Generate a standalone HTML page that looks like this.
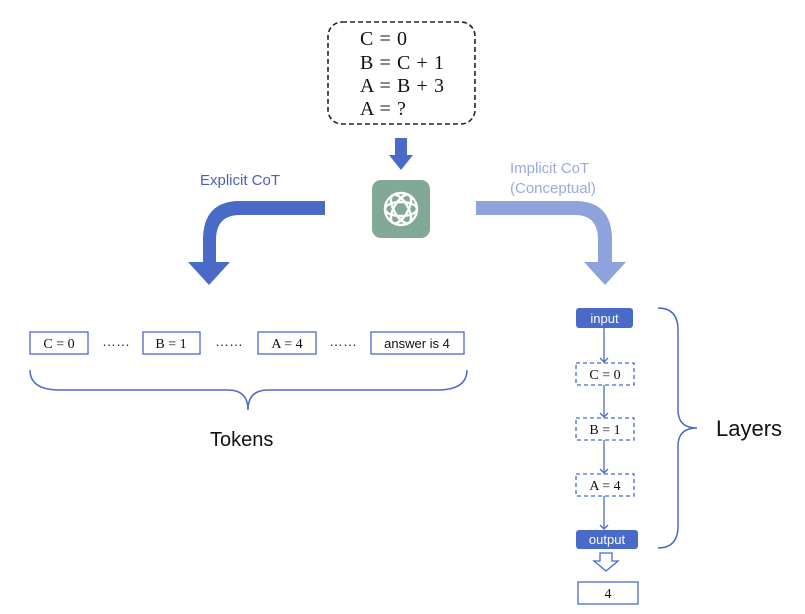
<!DOCTYPE html>
<html><head><meta charset="utf-8"><style>
html,body{margin:0;padding:0;background:#fff;}
svg{display:block;}
.s{font-family:"Liberation Serif",serif;}
.a{font-family:"Liberation Sans",sans-serif;}
</style></head><body>
<svg width="805" height="614" viewBox="0 0 805 614" xmlns="http://www.w3.org/2000/svg">
<defs>
<marker id="ah" markerWidth="10" markerHeight="10" refX="5" refY="5" orient="auto" markerUnits="userSpaceOnUse">
<path d="M1,1 L5,5 L1,9" fill="none" stroke="#4a6ac8" stroke-width="1.3"/>
</marker>
</defs>
<rect x="328" y="22" width="147" height="102" rx="14" fill="none" stroke="#222" stroke-width="1.6" stroke-dasharray="5,3"/>
<g class="s" font-size="20" fill="#111" letter-spacing="0.6">
<text x="360" y="45">C = 0</text>
<text x="360" y="69">B = C + 1</text>
<text x="360" y="92">A = B + 3</text>
<text x="360" y="115">A = ?</text>
</g>
<path d="M395,138 H407 V155 H413 L401,170 L389,155 H395 Z" fill="#4a6ac8"/>
<rect x="372" y="180" width="58" height="58" rx="9" fill="#82a896"/>
<g fill="none" stroke="#fff" stroke-width="2.4">
<circle cx="401" cy="209" r="16"/>
<ellipse cx="401" cy="209" rx="16" ry="7" transform="rotate(60 401 209)"/>
<ellipse cx="401" cy="209" rx="16" ry="7" transform="rotate(-60 401 209)"/>
<ellipse cx="401" cy="209" rx="16" ry="7"/>
</g>
<text class="a" x="200" y="185" font-size="15" fill="#4a5fb8">Explicit CoT</text>
<text class="a" x="510" y="173" font-size="15" fill="#9aaae0">Implicit CoT</text>
<text class="a" x="510" y="193" font-size="15" fill="#9aaae0">(Conceptual)</text>
<path d="M325,201 H240 Q203,201 203,240 V262 H188 L209,285 L230,262 H216 V240 Q216,215 240,215 H325 Z" fill="#4a6ac8"/>
<path d="M476,201 H575 Q612,201 612,240 V262 H626 L605,285 L584,262 H598 V240 Q598,215 575,215 H476 Z" fill="#8ea2dc"/>
<g fill="#fff" stroke="#4a6ac8" stroke-width="1.3">
<rect x="30" y="332" width="58" height="22"/>
<rect x="143" y="332" width="57" height="22"/>
<rect x="258" y="332" width="58" height="22"/>
<rect x="371" y="332" width="93" height="22"/>
</g>
<g class="s" font-size="14" fill="#111" text-anchor="middle">
<text x="59" y="348">C = 0</text>
<text x="171" y="348">B = 1</text>
<text x="287" y="348">A = 4</text>
</g>
<text class="a" x="417" y="348" font-size="13" fill="#111" text-anchor="middle">answer is 4</text>
<g class="a" font-size="14" fill="#333" text-anchor="middle">
<text x="116" y="346">……</text>
<text x="229" y="346">……</text>
<text x="343" y="346">……</text>
</g>
<path d="M30,370 Q30,390 60,390 H228 Q248,390 248,410 Q248,390 268,390 H437 Q467,390 467,370" fill="none" stroke="#4a6ac8" stroke-width="1.5"/>
<text class="a" x="210" y="446" font-size="20" fill="#111">Tokens</text>
<rect x="576" y="308" width="57" height="20" rx="3" fill="#4a6ac8"/>
<text class="a" x="604.5" y="323" font-size="13" fill="#fff" text-anchor="middle">input</text>
<g stroke="#4a6ac8" stroke-width="1.3" fill="none">
<line x1="604" y1="328" x2="604" y2="362" marker-end="url(#ah)"/>
<line x1="604" y1="385" x2="604" y2="417" marker-end="url(#ah)"/>
<line x1="604" y1="440" x2="604" y2="473" marker-end="url(#ah)"/>
<line x1="604" y1="496" x2="604" y2="529" marker-end="url(#ah)"/>
<rect x="576" y="363" width="58" height="22" stroke-dasharray="4,3"/>
<rect x="576" y="418" width="58" height="22" stroke-dasharray="4,3"/>
<rect x="576" y="474" width="58" height="22" stroke-dasharray="4,3"/>
</g>
<g class="s" font-size="14" fill="#111" text-anchor="middle">
<text x="605" y="379">C = 0</text>
<text x="605" y="434">B = 1</text>
<text x="605" y="490">A = 4</text>
</g>
<rect x="576" y="530" width="62" height="19" rx="3" fill="#4a6ac8"/>
<text class="a" x="607" y="544" font-size="13" fill="#fff" text-anchor="middle">output</text>
<path d="M600,553 H612 V561 H618 L606,571 L594,561 H600 Z" fill="#fff" stroke="#4a6ac8" stroke-width="1.3"/>
<rect x="578" y="582" width="60" height="22" fill="#fff" stroke="#4a6ac8" stroke-width="1.3"/>
<text class="s" x="608" y="598" font-size="14" fill="#111" text-anchor="middle">4</text>
<path d="M658,308 Q678,308 678,330 V410 Q678,428 697,428 Q678,428 678,446 V526 Q678,548 658,548" fill="none" stroke="#4a6ac8" stroke-width="1.5"/>
<text class="a" x="716" y="436" font-size="22" fill="#111">Layers</text>
</svg>
</body></html>
